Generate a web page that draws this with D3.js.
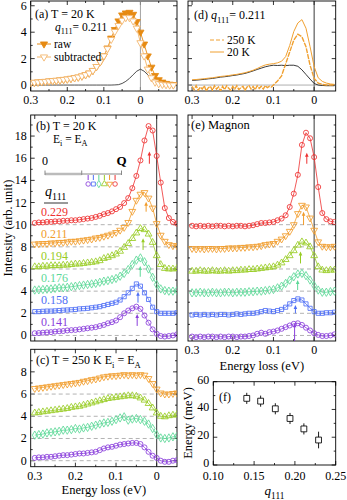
<!DOCTYPE html>
<html>
<head>
<meta charset="utf-8">
<script src="https://cdn.jsdelivr.net/npm/d3@7"></script>
<style>
  body { margin: 0; background: #fff; }
  #chart svg { display: block; font-family: "Liberation Serif", "Times New Roman", serif; }
</style>
</head>
<body>
<div id="chart"></div>
<script>
// energy grids (eV)
const energyA = [0.30,0.29,0.28,0.27,0.26,0.25,0.24,0.23,0.22,0.21,0.20,0.19,0.18,0.17,0.16,0.15,0.14,0.13,0.12,0.11,0.10,0.09,0.08,0.07,0.06,0.05,0.04,0.03,0.02,0.01,0.00,-0.01,-0.02,-0.03,-0.04,-0.05,-0.06,-0.07,-0.08,-0.09];
const energy = [0.30,0.29,0.28,0.27,0.26,0.25,0.24,0.23,0.22,0.21,0.20,0.19,0.18,0.17,0.16,0.15,0.14,0.13,0.12,0.11,0.10,0.09,0.08,0.07,0.06,0.05,0.04,0.03,0.02,0.01,0.00,-0.01,-0.02,-0.03,-0.04,-0.05];
const energyDiff = [0.300,0.295,0.290,0.285,0.280,0.275,0.270,0.265,0.260,0.255,0.250,0.245,0.240,0.235,0.230,0.225,0.220,0.215,0.210,0.205,0.200,0.195,0.190,0.185,0.180,0.175,0.170,0.165,0.160,0.155,0.150,0.145,0.140,0.135,0.130,0.125,0.120,0.115,0.110,0.105,0.100,0.09,0.08,0.07,0.06,0.05,0.04,0.03,0.02,0.01,0.00,-0.01,-0.02,-0.03,-0.04,-0.05];

// (a) q = 0.211, 20 K
const rawA = [0.18,0.2,0.22,0.25,0.27,0.3,0.33,0.35,0.38,0.42,0.45,0.5,0.55,0.6,0.68,0.78,0.9,1.1,1.4,1.75,2.2,2.8,3.55,4.2,4.85,5.3,5.45,5.5,5.35,4.8,4.0,3.1,2.2,1.35,0.72,0.4,0.22,0.12,0.06,0.03];
const subA = [0.18,0.2,0.22,0.25,0.27,0.3,0.33,0.35,0.38,0.42,0.45,0.5,0.55,0.6,0.68,0.78,0.9,1.1,1.4,1.75,2.2,2.75,3.45,4.05,4.5,4.9,5.1,5.1,4.85,4.3,3.2,2.2,1.2,0.55,0.22,0.1,0.05,0.02,0.0,0.0];
const elasticA = [0,0,0,0,0,0,0,0,0,0,0,0,0,0,0,0,0,0,0,0,0,0,0,0.01,0.03,0.12,0.28,0.5,0.78,1.05,1.2,1.05,0.78,0.5,0.28,0.12,0.04,0.01,0,0];

// (d) q = 0.211
const hotD = [0.35,0.37,0.4,0.43,0.47,0.5,0.55,0.6,0.63,0.67,0.72,0.76,0.82,0.88,0.97,1.07,1.18,1.28,1.38,1.45,1.5,1.48,1.5,1.47,1.5,1.5,1.42,1.15,0.8,0.45,0.12,0.0,-0.03,-0.05,-0.05,-0.05];
const coldD = [0.4,0.42,0.45,0.48,0.52,0.55,0.6,0.65,0.68,0.72,0.77,0.81,0.87,0.93,1.02,1.12,1.25,1.4,1.52,1.58,1.62,1.68,1.8,2.15,3.0,4.05,4.7,4.95,4.3,2.9,1.4,0.55,0.28,0.15,0.08,0.05];
const diffD = [-0.1,-0.35,-0.05,-0.4,-0.15,-0.3,-0.05,-0.45,-0.2,-0.1,-0.4,-0.05,-0.3,-0.15,-0.45,-0.1,-0.35,-0.05,-0.25,-0.4,-0.1,-0.3,-0.05,-0.35,-0.2,-0.1,-0.4,-0.15,-0.05,-0.3,-0.1,-0.35,-0.05,-0.25,-0.1,-0.3,-0.05,-0.2,-0.1,-0.15,0.0,0.3,0.7,1.6,2.5,3.4,3.85,3.65,2.9,1.5,0.5,0.15,0.05,0.0,0.0,0.0];

// q111 series
const qLabels = ["0.141","0.158","0.176","0.194","0.211","0.229"];
const qValues = [0.141,0.158,0.176,0.194,0.211,0.229];
const seriesColors = ["#8a3fdc","#4f6ff5","#5cd897","#98cc24","#f19c2a","#ee3030"];
const seriesMarkers = ["circle","square","diamond","triangle","triangleDown","circle"];
const offsetsB = [0,2,4,6,8,10];

// (b) 20 K raw spectra
const b141 = [0.2,0.22,0.25,0.28,0.3,0.35,0.38,0.4,0.45,0.48,0.5,0.55,0.6,0.65,0.7,0.75,0.85,0.95,1.1,1.2,1.35,1.65,2.0,2.25,2.45,2.6,2.4,1.8,1.15,0.55,0.15,-0.05,-0.1,-0.05,0.0,0.1];
const b158 = [0.15,0.15,0.18,0.2,0.2,0.22,0.25,0.28,0.3,0.32,0.35,0.4,0.42,0.45,0.5,0.55,0.6,0.7,0.8,0.9,1.0,1.2,1.5,1.85,2.25,2.65,2.45,1.85,1.25,0.55,0.15,0.0,0.0,0.0,0.0,0.05];
const b176 = [0.1,0.12,0.15,0.18,0.2,0.25,0.3,0.3,0.35,0.4,0.45,0.5,0.55,0.6,0.65,0.7,0.8,0.9,0.95,1.05,1.15,1.35,1.6,1.95,2.4,2.8,3.0,2.65,2.0,1.25,0.6,0.2,0.05,0.0,0.0,0.05];
const b194 = [0.2,0.2,0.25,0.25,0.3,0.3,0.3,0.35,0.35,0.4,0.45,0.45,0.5,0.55,0.6,0.65,0.75,0.95,1.05,1.2,1.35,1.6,1.95,2.3,2.75,3.25,3.65,3.55,3.15,2.4,1.2,0.4,0.05,0.0,0.0,0.05];
const b211 = [0.25,0.28,0.3,0.3,0.35,0.35,0.4,0.4,0.45,0.5,0.5,0.55,0.6,0.65,0.7,0.8,0.85,0.95,1.05,1.15,1.3,1.5,1.75,2.2,3.2,4.2,4.75,4.9,4.4,3.5,2.1,1.05,0.5,0.2,0.1,0.1];
const b229 = [0.15,0.2,0.2,0.25,0.25,0.3,0.3,0.35,0.35,0.4,0.4,0.45,0.5,0.55,0.6,0.7,0.8,0.95,1.05,1.2,1.4,1.6,1.95,2.4,3.3,4.4,5.8,7.6,8.9,8.5,6.2,3.8,1.5,0.6,0.25,0.1];
const spectraB = [b141,b158,b176,b194,b211,b229];

// (e) magnon part
const e141 = [-0.1,-0.15,-0.1,-0.15,-0.1,-0.1,-0.15,-0.1,-0.15,-0.1,-0.1,-0.15,-0.1,-0.1,-0.05,0.0,0.15,0.25,0.15,0.3,0.35,0.45,0.6,0.75,0.9,1.05,1.1,0.95,0.7,0.45,0.2,0.05,-0.05,-0.05,0.0,0.1];
const e158 = [-0.15,-0.1,-0.15,-0.1,-0.15,-0.1,-0.15,-0.1,-0.1,-0.15,-0.1,-0.05,-0.1,-0.05,0.0,0.0,0.05,0.15,0.25,0.2,0.15,0.25,0.35,0.55,0.85,1.15,1.3,1.2,0.85,0.45,0.15,0.0,0.0,0.05,0.05,0.1];
const e176 = [-0.15,-0.15,-0.1,-0.15,-0.15,-0.1,-0.15,-0.15,-0.1,-0.1,-0.15,-0.1,-0.1,-0.1,-0.05,-0.05,0.0,0.0,0.05,0.1,0.15,0.3,0.45,0.7,1.0,1.3,1.55,1.6,1.4,1.0,0.5,0.1,-0.1,-0.1,-0.05,0.0];
const e194 = [-0.2,-0.2,-0.15,-0.2,-0.2,-0.15,-0.2,-0.2,-0.15,-0.2,-0.15,-0.15,-0.1,-0.1,-0.05,-0.05,0.0,0.05,0.1,0.15,0.2,0.35,0.55,0.85,1.2,1.65,2.15,2.45,2.35,2.0,1.2,0.2,-0.1,-0.15,-0.1,-0.1];
const e211 = [-0.15,-0.2,-0.15,-0.2,-0.15,-0.15,-0.2,-0.15,-0.15,-0.1,-0.1,-0.1,-0.05,-0.05,0.0,0.0,0.05,0.1,0.2,0.25,0.3,0.5,0.7,1.0,1.4,2.0,3.0,3.75,3.6,2.6,1.5,0.45,0.05,0.0,0.0,0.05];
const e229 = [-0.1,-0.15,-0.1,-0.15,-0.1,-0.15,-0.1,-0.1,-0.15,-0.1,-0.15,-0.1,-0.1,-0.15,-0.1,-0.05,0.05,0.15,0.15,0.2,0.25,0.4,0.55,0.85,1.6,2.8,4.5,7.2,8.3,7.8,6.1,3.4,1.05,0.5,0.3,0.25];
const spectraE = [e141,e158,e176,e194,e211,e229];

// (c) 250 K, q = 0.141, 0.176, 0.194, 0.211
const c141 = [0.25,0.3,0.3,0.35,0.35,0.4,0.45,0.5,0.5,0.55,0.6,0.65,0.65,0.7,0.75,0.8,0.95,1.1,1.2,1.25,1.35,1.45,1.5,1.55,1.6,1.6,1.5,1.2,0.8,0.45,0.25,0.0,-0.1,-0.1,0.0,0.05];
const c176 = [0.3,0.35,0.4,0.5,0.55,0.6,0.65,0.75,0.75,0.8,0.9,0.85,0.95,1.0,1.1,1.2,1.3,1.4,1.45,1.55,1.7,1.85,1.95,1.65,1.75,1.8,1.7,1.55,1.3,0.9,0.35,0.05,0.0,0.05,0.15,0.2];
const c194 = [0.3,0.35,0.4,0.45,0.5,0.55,0.6,0.65,0.7,0.8,0.85,0.9,1.0,1.1,1.2,1.3,1.4,1.5,1.6,1.65,1.7,1.75,1.8,1.85,1.85,1.8,1.65,1.45,1.15,0.75,0.3,0.0,-0.05,0.05,0.1,0.15];
const c211 = [0.5,0.55,0.6,0.65,0.7,0.75,0.8,0.85,0.9,0.95,1.0,1.05,1.15,1.2,1.3,1.35,1.45,1.55,1.6,1.65,1.65,1.7,1.75,1.7,1.75,1.7,1.75,1.7,1.4,0.95,0.45,0.1,0.0,0.0,0.05,0.1];
const spectraC = [c141,c176,c194,c211];
const seriesC = [0,2,3,4];           // index into colors/markers
const offsetsC = [0,2,4,6];

// (f) magnon dispersion (meV)
const magnonEnergy = [48,46,40.5,33.5,26,18];
const magnonError = [4,4,4,4,4,6];

// arrows under the peaks (intensity above each baseline)
const arrowTailB = [0.86,0.96,1.3,1.72,3.17,5.5];
const arrowHeadB = [1.94,1.95,2.27,2.77,4.08,6.6];
const arrowTailE = [-0.5,0.0,0.1,0.5,1.97,5.5];
const arrowHeadE = [1.1,0.75,1.0,1.57,3.17,6.5];

const svg = d3.select("#chart").append("svg").attr("width", 347).attr("height", 500);

// panel boxes
const PA = {l: 30.7, r: 177, t: 1, b: 91};
const PD = {l: 188, r: 335.7, t: 1, b: 91};
const PB = {l: 30.7, r: 177, t: 115, b: 341};
const PE = {l: 188, r: 335.7, t: 115, b: 341};
const PC = {l: 30.7, r: 177, t: 349.3, b: 466.7};
const PF = {l: 213.3, r: 335.7, t: 381.7, b: 465};

const xA = d3.scaleLinear().domain([0.3, -0.1]).range([PA.l, PA.r]);
const yA = d3.scaleLinear().domain([-0.45, 6.36]).range([PA.b, PA.t]);
const xD = d3.scaleLinear().domain([0.31, -0.053]).range([PD.l, PD.r]);
const yD = d3.scaleLinear().domain([-0.45, 6.36]).range([PD.b, PD.t]);
const xB = d3.scaleLinear().domain([0.31, -0.05]).range([PB.l, PB.r]);
const yB = d3.scaleLinear().domain([-0.5, 19.9]).range([PB.b, PB.t]);
const xE = d3.scaleLinear().domain([0.31, -0.053]).range([PE.l, PE.r]);
const yE = d3.scaleLinear().domain([-0.5, 19.9]).range([PE.b, PE.t]);
const xC = d3.scaleLinear().domain([0.31, -0.05]).range([PC.l, PC.r]);
const yC = d3.scaleLinear().domain([-0.54, 10.03]).range([PC.b, PC.t]);
const xF = d3.scaleLinear().domain([0.10, 0.25]).range([PF.l, PF.r]);
const yF = d3.scaleLinear().domain([0, 60]).range([PF.b, PF.t]);

const eFmt = v => Math.abs(v) < 1e-9 ? "0" : v.toFixed(1);

function richText(g, x, y, parts, size, anchor) {
  const t = g.append("text").attr("x", x).attr("y", y)
      .attr("font-size", size).attr("text-anchor", anchor || "start");
  let shift = 0;
  parts.forEach(p => {
    const s = typeof p === "string" ? p : p[0];
    const k = typeof p === "string" ? "" : p[1];
    const ts = t.append("tspan").text(s);
    const want = k === "sub" ? size * 0.3 : 0;
    if (want !== shift) { ts.attr("dy", want - shift); shift = want; }
    if (k === "i") ts.attr("font-style", "italic");
    if (k === "b") ts.attr("font-weight", "bold");
    if (k === "sub") ts.attr("font-size", size * 0.72);
  });
  return t;
}

let clipId = 0;
function panel(x, y, cfg) {
  const g = svg.append("g");
  const [xl, xr] = x.range(), [yb, yt] = y.range();
  const id = "clip" + (clipId++);
  svg.append("clipPath").attr("id", id).append("rect")
      .attr("x", xl).attr("y", yt).attr("width", xr - xl).attr("height", yb - yt);

  // inward ticks on all four sides
  const tk = g.append("g").attr("stroke", "#000").attr("stroke-width", 0.8);
  const xt = (v, len) => {
    tk.append("line").attr("x1", x(v)).attr("x2", x(v)).attr("y1", yb).attr("y2", yb - len);
    tk.append("line").attr("x1", x(v)).attr("x2", x(v)).attr("y1", yt).attr("y2", yt + len);
  };
  const yt_ = (v, len) => {
    tk.append("line").attr("y1", y(v)).attr("y2", y(v)).attr("x1", xl).attr("x2", xl + len);
    tk.append("line").attr("y1", y(v)).attr("y2", y(v)).attr("x1", xr).attr("x2", xr - len);
  };
  cfg.xMajor.forEach(v => xt(v, 4));
  cfg.xMinor.forEach(v => xt(v, 2));
  cfg.yMajor.forEach(v => yt_(v, 4));
  cfg.yMinor.forEach(v => yt_(v, 2));

  g.append("rect").attr("x", xl).attr("y", yt).attr("width", xr - xl).attr("height", yb - yt)
      .attr("fill", "none").attr("stroke", "#000").attr("stroke-width", 0.9);

  if (cfg.xLabels) {
    cfg.xMajor.forEach(v => g.append("text").attr("x", x(v)).attr("y", yb + (cfg.xPad || 13))
        .attr("text-anchor", "middle").attr("font-size", 12).text(cfg.xFmt(v)));
  }
  if (cfg.yLabels) {
    cfg.yMajor.forEach(v => g.append("text").attr("x", xl - 4).attr("y", y(v) + (cfg.yPad || 4))
        .attr("text-anchor", "end").attr("font-size", 12).text(String(v)));
  }
  const data = svg.append("g").attr("clip-path", "url(#" + id + ")");
  return data;
}

function symbolPath(kind, size) {
  const t = {circle: d3.symbolCircle, square: d3.symbolSquare, diamond: d3.symbolDiamond,
    triangle: d3.symbolTriangle, triangleDown: d3.symbolTriangle}[kind];
  return d3.symbol().type(t).size(size)();
}

function markers(g, pts, kind, color, size, fill) {
  g.selectAll(null).data(pts).enter().append("path")
      .attr("d", symbolPath(kind, size))
      .attr("transform", d => "translate(" + d[0] + "," + d[1] + ")" + (kind === "triangleDown" ? " rotate(180)" : ""))
      .attr("fill", fill || "none").attr("stroke", color).attr("stroke-width", 0.85);
}

function spectrum(g, x, y, es, vals, off, color, kind) {
  const pts = d3.zip(es, vals).map(([e, v]) => [x(e), y(v + off)]);
  g.append("path").attr("d", d3.line()(pts)).attr("fill", "none")
      .attr("stroke", color).attr("stroke-width", 0.8);
  markers(g, pts, kind, color, kind === "square" ? 17 : 20);
}

function baseline(g, x, y, v) {
  const [xl, xr] = x.range();
  g.append("line").attr("x1", xl).attr("x2", xr).attr("y1", y(v)).attr("y2", y(v))
      .attr("stroke", "#aaa").attr("stroke-width", 0.9).attr("stroke-dasharray", "4,3");
}

function zeroLine(g, x, y, color) {
  const [yb, yt] = y.range();
  g.append("line").attr("x1", x(0)).attr("x2", x(0)).attr("y1", yb).attr("y2", yt)
      .attr("stroke", color).attr("stroke-width", 0.9);
}

function arrow(g, xp, y0, y1, color) {
  g.append("line").attr("x1", xp).attr("x2", xp).attr("y1", y0).attr("y2", y1 + 3)
      .attr("stroke", color).attr("stroke-width", 1);
  g.append("path").attr("d", `M${xp - 1.8},${y1 + 4} L${xp},${y1} L${xp + 1.8},${y1 + 4} Z`)
      .attr("fill", color);
}

const xTicksE = {xMajor: [0.3, 0.2, 0.1, 0], xMinor: [0.25, 0.15, 0.05], xFmt: eFmt};

// ---------- (a)
const gA = panel(xA, yA, Object.assign({}, xTicksE, {xMinor: [0.25, 0.15, 0.05, -0.05],
  yMajor: [0, 2, 4, 6], yMinor: [1, 3, 5], xLabels: true, yLabels: true}));
zeroLine(gA, xA, yA, "#999");
gA.append("path").attr("d", d3.line()(d3.zip(energyA, elasticA).map(([e, v]) => [xA(e), yA(v)])))
    .attr("fill", "none").attr("stroke", "#222").attr("stroke-width", 0.8);
const rawPts = d3.zip(energyA, rawA).map(([e, v]) => [xA(e), yA(v)]);
gA.append("path").attr("d", d3.line()(rawPts)).attr("fill", "none").attr("stroke", "#e68a12").attr("stroke-width", 0.9);
markers(gA, rawPts, "triangleDown", "#e68a12", 22, "#e68a12");
const subPts = d3.zip(energyA, subA).map(([e, v]) => [xA(e), yA(v)]);
gA.append("path").attr("d", d3.line()(subPts)).attr("fill", "none").attr("stroke", "#f3b468").attr("stroke-width", 0.9);
markers(gA, subPts, "triangleDown", "#f3b468", 22, "#fff");

richText(svg, 35, 18, ["(a) T = 20 K"], 12);
richText(svg, 55, 31, [["q", "i"], ["111", "sub"], "= 0.211"], 11.5);
svg.append("line").attr("x1", 37).attr("x2", 51).attr("y1", 44).attr("y2", 44).attr("stroke", "#e68a12");
markers(svg, [[44, 44]], "triangleDown", "#e68a12", 22, "#e68a12");
richText(svg, 54, 48, ["raw"], 11.5);
svg.append("line").attr("x1", 37).attr("x2", 51).attr("y1", 57).attr("y2", 57).attr("stroke", "#f3b468");
markers(svg, [[44, 57]], "triangleDown", "#f3b468", 22, "#fff");
richText(svg, 54, 61, ["subtracted"], 11.5);

// ---------- (d)
const gD = panel(xD, yD, Object.assign({}, xTicksE, {yMajor: [0, 2, 4, 6], yMinor: [1, 3, 5], xLabels: true, yLabels: false}));
zeroLine(gD, xD, yD, "#222");
gD.append("line").attr("x1", PD.l).attr("x2", PD.r).attr("y1", yD(0)).attr("y2", yD(0)).attr("stroke", "#999").attr("stroke-width", 0.8);
gD.append("path").attr("d", d3.line()(d3.zip(energy, hotD).map(([e, v]) => [xD(e), yD(v)])))
    .attr("fill", "none").attr("stroke", "#222").attr("stroke-width", 0.9);
gD.append("path").attr("d", d3.line()(d3.zip(energyDiff, diffD).map(([e, v]) => [xD(e), yD(v)])))
    .attr("fill", "none").attr("stroke", "#f0a030").attr("stroke-width", 1.4).attr("stroke-dasharray", "5,1");
gD.append("path").attr("d", d3.line()(d3.zip(energy, coldD).map(([e, v]) => [xD(e), yD(v)])))
    .attr("fill", "none").attr("stroke", "#f0a030").attr("stroke-width", 1);

richText(svg, 194, 19, ["(d) ", ["q", "i"], ["111", "sub"], "= 0.211"], 12);
svg.append("line").attr("x1", 210).attr("x2", 224).attr("y1", 40).attr("y2", 40)
    .attr("stroke", "#f0a030").attr("stroke-dasharray", "4,2");
richText(svg, 227, 44, ["250 K"], 11.5);
svg.append("line").attr("x1", 210).attr("x2", 224).attr("y1", 52).attr("y2", 52).attr("stroke", "#f0a030");
richText(svg, 227, 56, ["20 K"], 11.5);

// ---------- (b)
const gB = panel(xB, yB, Object.assign({}, xTicksE, {yMajor: d3.range(0, 19, 2), yMinor: d3.range(1, 20, 2), xLabels: false, yLabels: true}));
offsetsB.forEach(o => baseline(gB, xB, yB, o));
zeroLine(gB, xB, yB, "#222");
spectraB.forEach((s, i) => spectrum(gB, xB, yB, energy, s, offsetsB[i], seriesColors[i], seriesMarkers[i]));
magnonEnergy.forEach((m, i) => arrow(gB, xB(m / 1000), yB(offsetsB[i] + arrowTailB[i]), yB(offsetsB[i] + arrowHeadB[i]), seriesColors[i]));

richText(svg, 36, 130, ["(b)  T = 20 K"], 12);
richText(svg, 53, 143, ["E", ["i", "sub"], " = E", ["A", "sub"]], 11.5);
qLabels.forEach((q, i) => richText(svg, 41, yB(offsetsB[i]) - 9, [q], 12).attr("fill", seriesColors[i]));
richText(svg, 45, 196, [["q", "i"], ["111", "sub"]], 14);
svg.append("line").attr("x1", 44).attr("x2", 68).attr("y1", 203).attr("y2", 203).attr("stroke", "#000").attr("stroke-width", 0.8);

// Q-space inset
const qInset = d3.scaleLinear().domain([0, 0.25]).range([45, 121.5]);
svg.append("line").attr("x1", qInset(0)).attr("x2", qInset(0.25)).attr("y1", 174).attr("y2", 174)
    .attr("stroke", "#888").attr("stroke-width", 1);
svg.append("line").attr("x1", qInset(0)).attr("x2", qInset(0.12)).attr("y1", 174).attr("y2", 174)
    .attr("stroke", "#bbb").attr("stroke-width", 2.5);
[0, 0.12, 0.25].forEach(v => svg.append("line").attr("x1", qInset(v)).attr("x2", qInset(v))
    .attr("y1", 170.5).attr("y2", 175).attr("stroke", "#888").attr("stroke-width", 1));
richText(svg, qInset(0), 165, ["0"], 12, "middle");
richText(svg, qInset(0.25), 165, [["Q", "b"]], 13, "middle");
qValues.forEach((q, i) => {
  svg.append("line").attr("x1", qInset(q)).attr("x2", qInset(q)).attr("y1", 175).attr("y2", 180)
      .attr("stroke", seriesColors[i]).attr("stroke-width", 1);
  markers(svg, [[qInset(q), 184]], seriesMarkers[i], seriesColors[i], 16);
});

// ---------- (e)
const gE = panel(xE, yE, Object.assign({}, xTicksE, {yMajor: d3.range(0, 19, 2), yMinor: d3.range(1, 20, 2), xLabels: true, yLabels: false}));
offsetsB.forEach(o => baseline(gE, xE, yE, o));
zeroLine(gE, xE, yE, "#222");
spectraE.forEach((s, i) => spectrum(gE, xE, yE, energy, s, offsetsB[i], seriesColors[i], seriesMarkers[i]));
magnonEnergy.forEach((m, i) => arrow(gE, xE(m / 1000), yE(offsetsB[i] + arrowTailE[i]), yE(offsetsB[i] + arrowHeadE[i]), seriesColors[i]));
richText(svg, 191, 129, ["(e)  Magnon"], 12.5);
richText(svg, (PE.l + PE.r) / 2, 370, ["Energy loss (eV)"], 12.5, "middle");

// ---------- (c)
const gC = panel(xC, yC, Object.assign({}, xTicksE, {yMajor: [0, 2, 4, 6, 8], yMinor: [1, 3, 5, 7, 9], xLabels: true, yLabels: true}));
offsetsC.forEach(o => baseline(gC, xC, yC, o));
zeroLine(gC, xC, yC, "#222");
spectraC.forEach((s, i) => spectrum(gC, xC, yC, energy, s, offsetsC[i], seriesColors[seriesC[i]], seriesMarkers[seriesC[i]]));
richText(svg, 36, 364, ["(c)  T = 250 K  E", ["i", "sub"], " = E", ["A", "sub"]], 12);
richText(svg, (PC.l + PC.r) / 2, 494, ["Energy loss (eV)"], 12.5, "middle");

// y title for (a)-(c)
svg.append("text").attr("transform", "translate(12,228) rotate(-90)").attr("text-anchor", "middle")
    .attr("font-size", 12.5).text("Intensity (arb. unit)");

// ---------- (f)
const gF = panel(xF, yF, {xMajor: [0.10, 0.15, 0.20, 0.25], xMinor: [0.125, 0.175, 0.225], xFmt: v => v.toFixed(2),
  yMajor: [0, 20, 40, 60], yMinor: [10, 30, 50], xLabels: true, yLabels: true, xPad: 15, yPad: 2});
const gF2 = svg.append("g");
magnonEnergy.forEach((m, i) => {
  gF2.append("line").attr("x1", xF(qValues[i])).attr("x2", xF(qValues[i]))
      .attr("y1", yF(m - magnonError[i])).attr("y2", yF(m + magnonError[i]))
      .attr("stroke", "#000").attr("stroke-width", 0.9);
});
markers(gF2, magnonEnergy.map((m, i) => [xF(qValues[i]), yF(m)]), "square", "#000", 34, "#fff");
richText(svg, 219, 401, ["(f)"], 12);
richText(svg, (PF.l + PF.r) / 2, 495, [["q", "i"], ["111", "sub"]], 13, "middle");
svg.append("text").attr("transform", "translate(192,423) rotate(-90)").attr("text-anchor", "middle")
    .attr("font-size", 12.5).text("Energy (meV)");
</script>
</body>
</html>
